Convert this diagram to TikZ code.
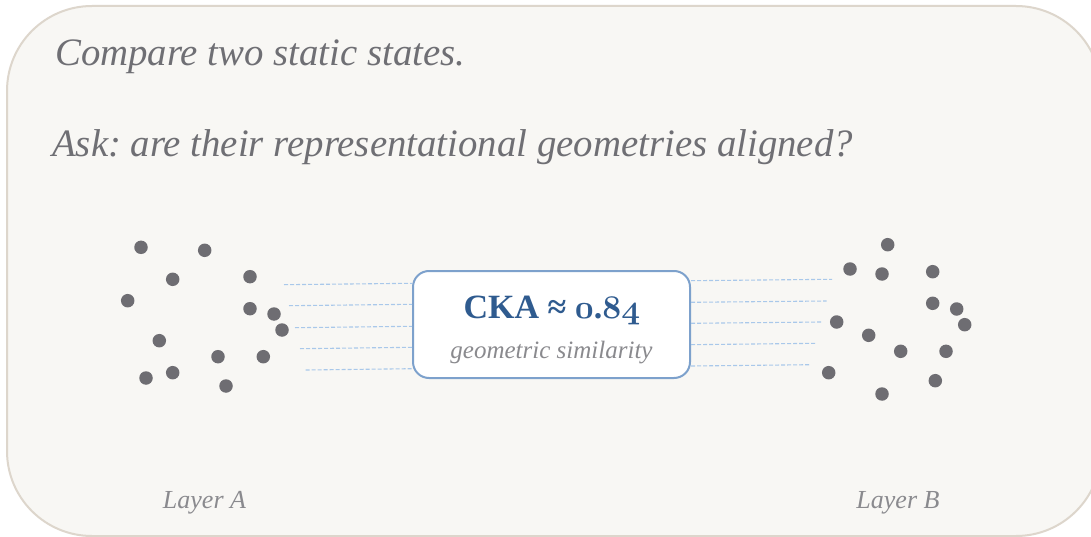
\documentclass[tikz,border=0pt]{standalone}
\usepackage{fontspec}
\setmainfont{Liberation Serif}
\frenchspacing
\definecolor{cardfill}{HTML}{F8F7F4}
\definecolor{cardline}{HTML}{DDD6CC}
\definecolor{titlegray}{HTML}{6F6F74}
\definecolor{lightgray}{HTML}{8A8A8E}
\definecolor{dotgray}{HTML}{6E6D72}
\definecolor{dashblue}{HTML}{A9C8EA}
\definecolor{boxblue}{HTML}{7DA1CC}
\definecolor{ckablue}{HTML}{2F5B8F}
\font\osfnt=cmmib10 at 33pt
\newcommand{\osnum}[1]{{\osfnt #1}}
\tikzset{
  card/.style={draw=cardline, line width=2pt, fill=cardfill, rounded corners=85pt},
  titletext/.style={anchor=base west, inner sep=0pt, text=titlegray, font=\fontsize{38.8}{44}\selectfont\itshape},
  layertext/.style={anchor=base, inner sep=0pt, text=lightgray, font=\fontsize{26}{30}\selectfont\itshape},
  dot/.style={circle, fill=dotgray, minimum size=13.5pt, inner sep=0pt},
  link/.style={draw=dashblue, line width=1.1pt, dash pattern=on 4pt off 2pt},
  ckabox/.style={draw=boxblue, line width=2pt, fill=white, rounded corners=16pt, minimum width=277pt, minimum height=107pt, inner sep=0pt},
  ckatext/.style={anchor=base, inner sep=0pt, text=ckablue, font=\fontsize{34}{40}\selectfont\bfseries},
  subtext/.style={anchor=base, inner sep=0pt, text=lightgray, font=\fontsize{25}{30}\selectfont\itshape}
}
\begin{document}
\begin{tikzpicture}[x=1pt,y=-1pt]
\useasboundingbox (0,0) rectangle (1091,537);
\fill[white] (0,0) rectangle (1091,537);
\clip (0,0) rectangle (1091,537);
\path[card] (7,6) rectangle (1101,536);

\node[titletext] (t1) at (55,66) {Compare two static states.};
\node[titletext] (t2) at (52,157) {Ask: are their representational geometries aligned?};

% left dots
\foreach \x/\y [count=\i] in {141/247.3, 204.7/250.3, 172.7/279.3, 250/276.7, 127.7/300.7, 250/308.7, 274/314, 282/330, 159.3/340.7, 218/356.7, 263.3/356.7, 146/378, 172.7/372.7, 226/386}
  \node[dot] (a\i) at (\x,\y) {};
% right dots
\foreach \x/\y [count=\i] in {887.7/244.7, 850/269, 882/274, 932.7/271.7, 932.7/303.3, 956.7/309, 964.7/324.7, 836.7/322, 868.7/335.3, 900.7/351.3, 946/351.3, 828.7/372.7, 935.3/380.7, 882/394}
  \node[dot] (b\i) at (\x,\y) {};

% box
\node[ckabox] (cka) at (551.5,324.5) {};

% link free ends
\coordinate (l1) at (284,284.7);
\coordinate (l2) at (289,305.7);
\coordinate (l3) at (295,327.7);
\coordinate (l4) at (300,348.7);
\coordinate (l5) at (305.7,370);
\coordinate (r1) at (832,279.3);
\coordinate (r2) at (826.7,301);
\coordinate (r3) at (821.7,322);
\coordinate (r4) at (816,343.3);
\coordinate (r5) at (810.7,364.7);

\draw[link] (l1) -- ([yshift=41.2pt]cka.west);
\draw[link] (l2) -- ([yshift=20.2pt]cka.west);
\draw[link] (l3) -- ([yshift=-1.8pt]cka.west);
\draw[link] (l4) -- ([yshift=-22.8pt]cka.west);
\draw[link] (l5) -- ([yshift=-44.2pt]cka.west);
\draw[link] ([yshift=43.8pt]cka.east) -- (r1);
\draw[link] ([yshift=22.2pt]cka.east) -- (r2);
\draw[link] ([yshift=1.2pt]cka.east) -- (r3);
\draw[link] ([yshift=-20.2pt]cka.east) -- (r4);
\draw[link] ([yshift=-41.5pt]cka.east) -- (r5);

\node[ckatext] (ckal) at (552,318) {CKA ≈ \osnum{0}.\osnum{84}};
\node[subtext] (sim) at (551.5,358) {geometric similarity};

\node[layertext] (la) at (204.5,508) {Layer A};
\node[layertext] (lb) at (898,508) {Layer B};
\end{tikzpicture}
\end{document}
